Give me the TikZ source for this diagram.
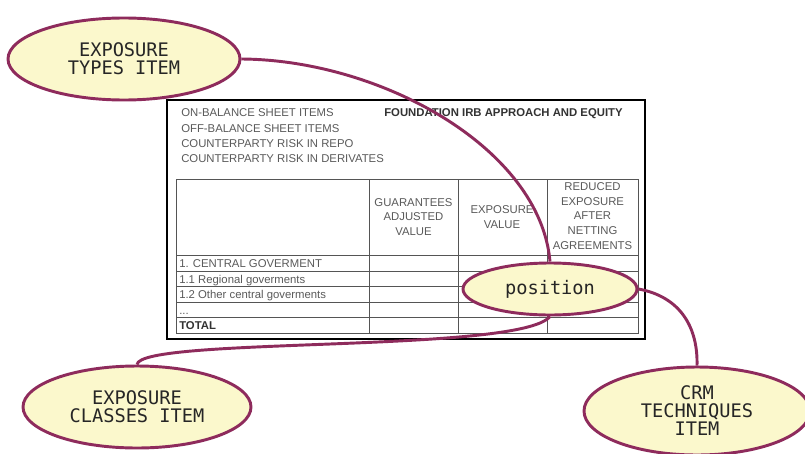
\documentclass[tikz,border=0pt]{standalone}
\usepackage{fontspec}
\setmainfont{Liberation Sans}
\newfontfamily\monof{DejaVu Sans Mono}
\usetikzlibrary{shapes.geometric}
\definecolor{bord}{HTML}{8E2B5C}
\definecolor{fillc}{HTML}{FBF8CC}
\definecolor{txtg}{HTML}{5A5A5A}
\definecolor{gridc}{HTML}{555555}
\pgfdeclarelayer{tbl}
\pgfdeclarelayer{links}
\pgfsetlayers{tbl,links,main}
\begin{document}
\begin{tikzpicture}[x=0.75pt,y=-0.75pt,
  item/.style={ellipse,draw=bord,line width=2.2pt,fill=fillc,inner sep=0pt,
    font=\monof\fontsize{14}{13.5}\selectfont,text=black!85,align=center},
  link/.style={draw=bord,line width=2.2pt},
  lbl/.style={inner sep=0pt,anchor=west,font=\fontsize{8.5}{11}\selectfont,
    text=txtg,text height=6.1pt,text depth=0pt},
  lblb/.style={lbl,font=\bfseries\fontsize{8.5}{11}\selectfont,text=black!80},
  hdr/.style={inner sep=0pt,align=center,font=\fontsize{8.5}{11}\selectfont,text=txtg},
  gridl/.style={draw=gridc,line width=0.7pt}]
\useasboundingbox (0,0) rectangle (805,453);
\begin{pgfonlayer}{tbl}
\fill[white] (0,0) rectangle (805,453);
\draw[line width=1.2pt] (167,100) rectangle (645,339);
\draw[gridl] (176,179) rectangle (638,333);
\foreach \yy in {255,271,286,302,317} \draw[gridl] (176,\yy) -- (638,\yy);
\foreach \xx in {369,458,547} \draw[gridl] (\xx,179) -- (\xx,333);
\node[lbl] (on) at (181,112) {ON-BALANCE SHEET ITEMS};
\node[lbl] (off) at (181,128) {OFF-BALANCE SHEET ITEMS};
\node[lbl] (repo) at (181,143) {COUNTERPARTY RISK IN REPO};
\node[lbl] (deriv) at (181,158) {COUNTERPARTY RISK IN DERIVATES};
\node[lblb] (found) at (384,112) {FOUNDATION IRB APPROACH AND EQUITY};
\node[hdr] (guar) at (413.5,217) {GUARANTEES\\ADJUSTED\\VALUE};
\node[hdr] (expv) at (502,217) {EXPOSURE\\VALUE};
\node[hdr] (red) at (592.5,216) {REDUCED\\EXPOSURE\\AFTER\\NETTING\\AGREEMENTS};
\node[lbl] (r1) at (179,263) {1. CENTRAL GOVERMENT};
\node[lbl] (r2) at (179,279) {1.1 Regional goverments};
\node[lbl] (r3) at (179,294) {1.2 Other central goverments};
\node[lbl] (r4) at (179,310) {...};
\node[lblb] (tot) at (179,325) {TOTAL};
\end{pgfonlayer}
\node[item,minimum width=174pt,minimum height=61.5pt] (types) at (124,59) {EXPOSURE\\TYPES ITEM};
\node[item,minimum width=130.5pt,minimum height=39pt] (pos) at (550,289) {position};
\node[item,minimum width=171pt,minimum height=61.5pt] (classes) at (137,407) {EXPOSURE\\CLASSES ITEM};
\node[item,minimum width=169.5pt,minimum height=66pt] (crm) at (697,411) {CRM\\TECHNIQUES\\ITEM};
\begin{pgfonlayer}{links}
\draw[link] (types.east) .. controls +(140,1) and +(-10,-113) .. (pos.north);
\draw[link] (pos.south) .. controls +(-30,37) and +(3,-28) .. (classes.north);
\draw[link] (pos.east) .. controls +(43,8) and +(1,-37) .. (crm.north);
\end{pgfonlayer}
\end{tikzpicture}
\end{document}
